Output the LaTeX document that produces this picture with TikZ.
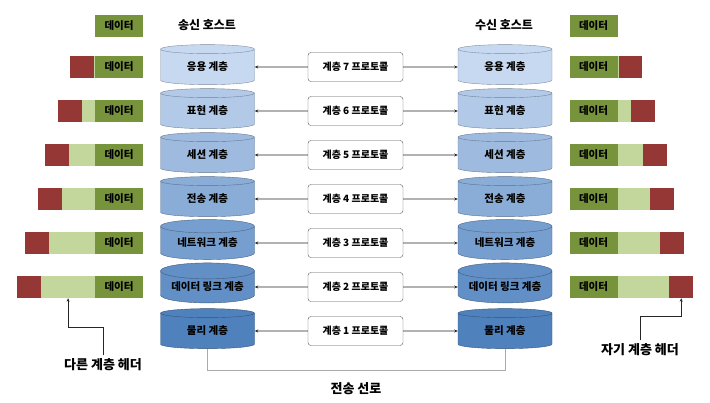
\documentclass[tikz,border=0pt]{standalone}
\usepackage{fontspec}
\setmainfont{Noto Sans CJK KR}
\usetikzlibrary{shapes.geometric,arrows.meta,positioning,calc}

\definecolor{layerlight}{HTML}{C6D9F1}
\definecolor{layerdark}{HTML}{4F81BD}
\definecolor{datagreen}{HTML}{77933C}
\definecolor{padgreen}{HTML}{C3D69B}
\definecolor{hdrred}{HTML}{953735}
\definecolor{wiregray}{HTML}{AAAAAA}

\tikzset{
  layer/.style={cylinder, shape border rotate=90, aspect=0.22, draw=#1!65!black, fill=#1,
    minimum width=94pt, minimum height=40pt, inner sep=0pt, font=\bfseries\fontsize{10.5}{11}\selectfont},
  proto/.style={draw=black!65, rounded corners=3pt, fill=white, minimum width=95pt,
    minimum height=29pt, inner sep=0pt, font=\bfseries\fontsize{10}{11}\selectfont},
  databox/.style={fill=datagreen, minimum width=48pt, minimum height=22pt, inner sep=0pt,
    font=\bfseries\fontsize{10.5}{11}\selectfont},
  hdr/.style={fill=hdrred, minimum width=24pt, minimum height=22pt, inner sep=0pt},
  peer/.style={draw=black!85, line width=0.6pt, -{Stealth[length=3.5pt,width=3pt]}},
  hosttitle/.style={font=\bfseries\fontsize{12}{13}\selectfont},
  note/.style={font=\bfseries\fontsize{13}{14}\selectfont},
}

\begin{document}
\begin{tikzpicture}[x=1pt,y=-1pt]
  \useasboundingbox (0,0) rectangle (710,403);

  % hosts
  \node[hosttitle] (lhost) at (207,25) {송신 호스트};
  \node[hosttitle] (rhost) at (504,25) {수신 호스트};

  % layers and peer protocols
  \foreach \r/\lname in {1/응용 계층, 2/표현 계층, 3/세션 계층, 4/전송 계층,
      5/네트워크 계층, 6/데이터 링크 계층, 7/물리 계층}{
    \pgfmathsetmacro\y{67+44*(\r-1)}
    \pgfmathtruncatemacro\mixpct{100-100*(\r-1)/6}
    \pgfmathtruncatemacro\n{8-\r}
    \colorlet{layerfill}{layerlight!\mixpct!layerdark}
    \node[layer=layerfill] (ls\r) at (207.5,\y) {\raisebox{-3pt}{\lname}};
    \node[layer=layerfill] (rs\r) at (505,\y) {\raisebox{-3pt}{\lname}};
    \node[proto] (p\r) at (355.5,\y) {계층 \n\ 프로토콜};
    \draw[peer] (p\r.west) -- (ls\r.east);
    \draw[peer] (p\r.east) -- (rs\r.west);
  }

  % data with headers
  \node[databox] (ld0) at (119,26) {데이터};
  \node[databox] (rd0) at (593.5,26) {데이터};
  \foreach \r/\lx/\rx in {1/70/618, 2/58/631, 3/45/643, 4/38/650, 5/25/660, 6/17/669}{
    \pgfmathsetmacro\y{67+44*(\r-1)}
    \node[databox] (ld\r) at (119,\y) {데이터};
    \node[hdr, anchor=west] (lh\r) at (\lx,\y) {};
    \fill[padgreen] (lh\r.north east) rectangle (ld\r.south west);
    \node[databox] (rd\r) at (593.5,\y) {데이터};
    \node[hdr, anchor=west] (rh\r) at (\rx,\y) {};
    \fill[padgreen] (rd\r.north east) rectangle (rh\r.south west);
  }
  \coordinate (lpad6) at ($(lh6.south east)!.5!(ld6.south west)$);

  % header notes
  \node[note] (lnote) at (103,365) {다른 계층 헤더};
  \draw[peer] (lnote.north) -- ++(0,-28) -| (lpad6);
  \node[note] (rnote) at (640,350) {자기 계층 헤더};
  \draw[peer] (rnote.north) -- ++(0,-24) -| (rh6.south);

  % physical medium
  \draw[wiregray] (ls7.south) -- ++(0,21) -| (rs7.south);
  \node[note] (wire) at (356,389) {전송 선로};
\end{tikzpicture}
\end{document}
